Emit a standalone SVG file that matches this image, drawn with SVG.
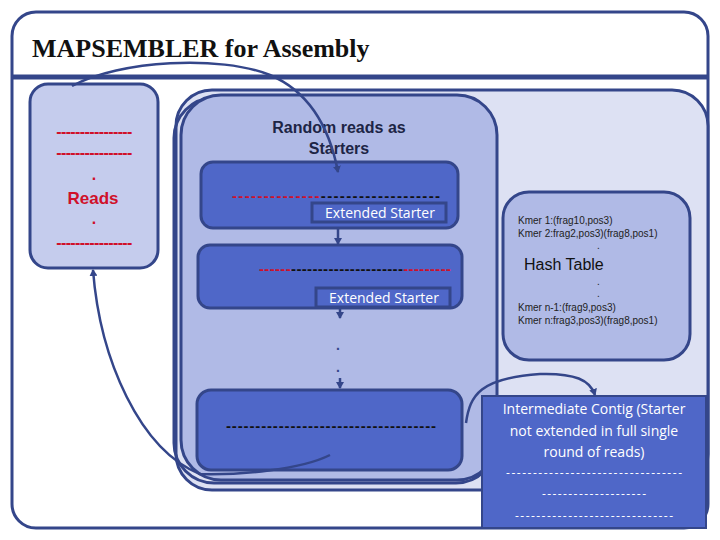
<svg xmlns="http://www.w3.org/2000/svg" width="720" height="540" viewBox="0 0 720 540">
<style>
.ln{stroke:#34468a;stroke-width:3}
.cn{fill:none;stroke:#34468a;stroke-width:2.5}
.red{font-family:"Liberation Sans",Arial,sans-serif;font-weight:bold;fill:#d0102a}
.wt{font-family:"Open Sans","DejaVu Sans",sans-serif;fill:#fff}
.sm{font-family:"Liberation Sans",Arial,sans-serif;font-size:10px;fill:#222}
.dash{font-family:"Liberation Sans",Arial,sans-serif;font-weight:bold;font-size:15px}
</style>
<defs><marker id="ah" markerWidth="8" markerHeight="8" refX="6" refY="4" orient="auto" markerUnits="userSpaceOnUse"><path d="M0,0 L7,4 L0,8 z" fill="#34468a"/></marker></defs>
<g id="frame">
<rect x="12" y="12" width="696" height="516" rx="24" fill="#fff" class="ln"/>
<line x1="12" y1="77" x2="708" y2="77" stroke="#34468a" stroke-width="5"/>
<text x="32" y="57" font-family="Liberation Serif,serif" font-weight="bold" font-size="26" fill="#111">MAPSEMBLER for Assembly</text>
</g>
<g id="light"><rect x="176" y="90" width="532" height="400" rx="36" fill="#dde1f3" class="ln"/></g>
<g id="starters">
<rect x="174" y="98" width="322" height="385" rx="40" fill="none" class="ln"/>
<rect x="181" y="95" width="316" height="385" rx="40" fill="#b0bae6" class="ln"/>
<text x="339" y="133" text-anchor="middle" font-family="Liberation Sans,Arial,sans-serif" font-weight="bold" font-size="16" fill="#1d2545">Random reads as</text>
<text x="339" y="154" text-anchor="middle" font-family="Liberation Sans,Arial,sans-serif" font-weight="bold" font-size="16" fill="#1d2545">Starters</text>
</g>
<g id="reads">
<rect x="30" y="84" width="128" height="184" rx="18" fill="#c5cced" class="ln"/>
<text x="94" y="137" text-anchor="middle" class="red" font-size="16" letter-spacing="-0.6">----------------</text>
<text x="94" y="158" text-anchor="middle" class="red" font-size="16" letter-spacing="-0.6">----------------</text>
<text x="94" y="180" text-anchor="middle" class="red" font-size="16">.</text>
<text x="93" y="204" text-anchor="middle" class="red" font-size="17">Reads</text>
<text x="94" y="224" text-anchor="middle" class="red" font-size="16">.</text>
<text x="94" y="248" text-anchor="middle" class="red" font-size="16" letter-spacing="-0.6">----------------</text>
</g>
<g id="ext1">
<rect x="201" y="162" width="257" height="66" rx="12" fill="#4f67c8" class="ln"/>
<text x="232" y="201" class="dash" textLength="208" lengthAdjust="spacing"><tspan fill="#d0102a">--------------</tspan><tspan fill="#111">-------------------</tspan></text>
<rect x="312" y="203" width="134" height="19" fill="#4f67c8" class="ln"/>
<text x="380" y="218" text-anchor="middle" class="wt" font-size="14">Extended Starter</text>
</g>
<g id="ext2">
<rect x="198" y="245" width="264" height="63" rx="12" fill="#4f67c8" class="ln"/>
<text x="259" y="274" class="dash" textLength="192" lengthAdjust="spacing"><tspan fill="#d0102a">------</tspan><tspan fill="#111">---------------------</tspan><tspan fill="#d0102a">---------</tspan></text>
<rect x="316" y="288" width="134" height="19" fill="#4f67c8" class="ln"/>
<text x="384" y="303" text-anchor="middle" class="wt" font-size="14">Extended Starter</text>
</g>
<g id="ext3">
<rect x="197" y="390" width="265" height="80" rx="14" fill="#4f67c8" class="ln"/>
<text x="226" y="431" class="dash" fill="#111" textLength="210" lengthAdjust="spacing">------------------------------------</text>
</g>
<g id="hash">
<rect x="503" y="192" width="187" height="168" rx="26" fill="#b0bae6" class="ln"/>
<text x="518" y="224" class="sm">Kmer 1:(frag10,pos3)</text>
<text x="518" y="237" class="sm">Kmer 2:frag2,pos3)(frag8,pos1)</text>
<text x="597" y="249" class="sm">.</text>
<text x="524" y="270" font-family="Liberation Sans,Arial,sans-serif" font-size="16" fill="#111">Hash Table</text>
<text x="597" y="285" class="sm">.</text>
<text x="597" y="297" class="sm">.</text>
<text x="518" y="311" class="sm">Kmer n-1:(frag9,pos3)</text>
<text x="518" y="324" class="sm">Kmer n:frag3,pos3)(frag8,pos1)</text>
</g>
<g id="contig">
<rect x="482" y="396" width="224" height="132" fill="#4f67c8" stroke="#34468a" stroke-width="2"/>
<text x="594" y="414" text-anchor="middle" class="wt" font-size="14">Intermediate Contig (Starter</text>
<text x="594" y="436" text-anchor="middle" class="wt" font-size="14">not extended in full single</text>
<text x="594" y="457" text-anchor="middle" class="wt" font-size="14">round of reads)</text>
<text x="594" y="477" text-anchor="middle" class="wt" font-size="12" textLength="176" lengthAdjust="spacing">---------------------------------</text>
<text x="594" y="498" text-anchor="middle" class="wt" font-size="12" textLength="104" lengthAdjust="spacing">--------------------</text>
<text x="594" y="520" text-anchor="middle" class="wt" font-size="12" textLength="158" lengthAdjust="spacing">------------------------------</text>
</g>
<g id="connectors">
<path class="cn" d="M72,86 C120,60 220,55 270,75 C310,92 330,130 338,172" marker-end="url(#ah)"/>
<path class="cn" d="M338,228 L338,244" marker-end="url(#ah)"/>
<path class="cn" d="M340,308 L340,318" marker-end="url(#ah)"/>
<text x="336" y="350" font-family="Liberation Sans,sans-serif" font-weight="bold" font-size="14" fill="#34468a">.</text>
<text x="336" y="372" font-family="Liberation Sans,sans-serif" font-weight="bold" font-size="14" fill="#34468a">.</text>
<path class="cn" d="M340,378 L340,388" marker-end="url(#ah)"/>
<path class="cn" d="M330,455 C300,470 240,475 200,474 C140,450 100,360 93,270" marker-end="url(#ah)"/>
<path class="cn" d="M466,423 C470,395 480,378 540,374 C575,373 590,380 595,395" marker-end="url(#ah)"/>
</g>
</svg>
